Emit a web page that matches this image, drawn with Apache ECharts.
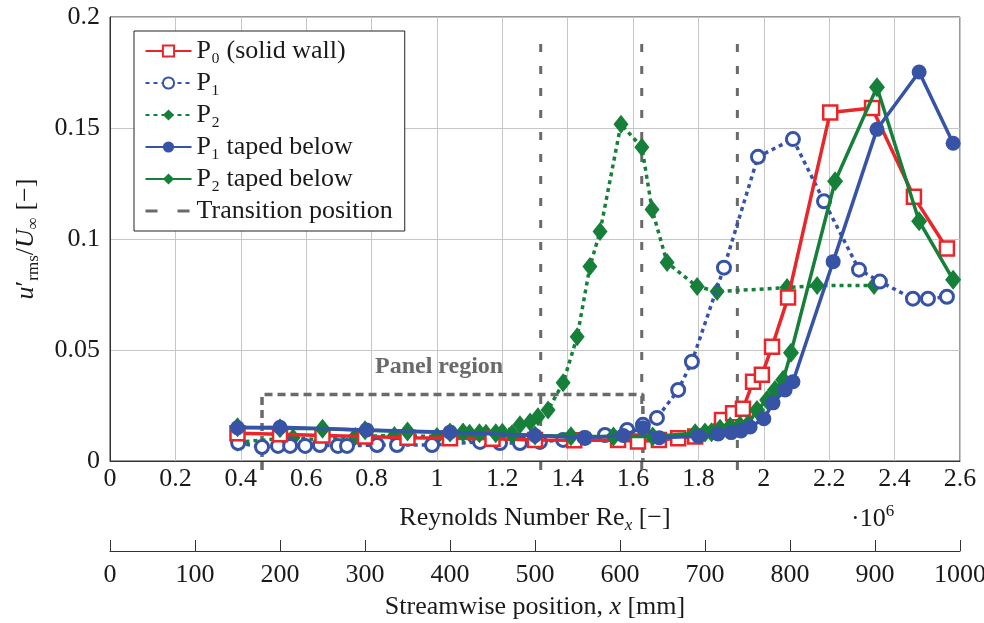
<!DOCTYPE html>
<html>
<head>
<meta charset="utf-8">
<script src="https://cdn.jsdelivr.net/npm/echarts@6/dist/echarts.min.js"></script>
<style>
html,body{margin:0;padding:0;background:#fff;}
#chart{width:984px;height:623px;}
</style>
</head>
<body>
<div id="chart"></div>
<script>
// ---------- data (Re_x in 1e6, value u'rms/U_inf) ----------
const reP0  = [0.39,0.52,0.65,0.78,0.91,1.04,1.17,1.30,1.42,1.554,1.615,1.679,1.738,1.79,1.872,1.906,1.936,1.967,1.994,2.025,2.074,2.203,2.331,2.459,2.560];
const valP0 = [0.0125,0.012,0.0115,0.011,0.0105,0.0102,0.0100,0.0095,0.0093,0.0095,0.0088,0.0095,0.0102,0.011,0.0185,0.0215,0.0235,0.0357,0.0388,0.0515,0.0736,0.157,0.159,0.119,0.0957];

const reP1  = [0.392,0.465,0.514,0.551,0.597,0.642,0.697,0.725,0.817,0.878,0.985,1.132,1.193,1.254,1.315,1.386,1.453,1.514,1.582,1.630,1.673,1.738,1.780,1.878,1.982,2.089,2.184,2.291,2.355,2.456,2.502,2.560];
const valP1 = [0.0081,0.0063,0.0068,0.0068,0.0068,0.0072,0.0068,0.0068,0.0072,0.0072,0.0072,0.0086,0.0081,0.0081,0.0086,0.0095,0.0104,0.0117,0.014,0.0163,0.0194,0.032,0.0447,0.0871,0.137,0.145,0.117,0.0862,0.0808,0.0731,0.0731,0.074];

const reP2  = [0.39,0.56,0.65,0.75,0.87,1.00,1.05,1.10,1.15,1.20,1.254,1.285,1.309,1.340,1.386,1.429,1.468,1.499,1.563,1.627,1.658,1.704,1.796,1.857,2.071,2.163,2.337];
const valP2 = [0.0085,0.0105,0.0095,0.011,0.0115,0.011,0.012,0.0125,0.0125,0.013,0.0163,0.0176,0.0199,0.023,0.0352,0.056,0.0876,0.1034,0.1517,0.1413,0.1133,0.0894,0.0786,0.0763,0.0781,0.079,0.079];

const reP1t  = [0.39,0.52,0.785,1.04,1.30,1.45,1.57,1.63,1.68,1.80,1.86,1.90,1.93,1.958,2.00,2.028,2.065,2.089,2.212,2.346,2.475,2.579];
const valP1t = [0.015,0.0152,0.014,0.013,0.0115,0.0105,0.0115,0.0150,0.0105,0.0112,0.0122,0.0128,0.0135,0.0153,0.019,0.0262,0.032,0.0357,0.0898,0.1494,0.1752,0.1431];

const reP2t  = [0.39,0.52,0.65,0.78,0.91,1.04,1.08,1.13,1.18,1.23,1.30,1.41,1.54,1.66,1.79,1.82,1.84,1.866,1.897,1.927,1.952,1.979,2.010,2.034,2.059,2.083,2.218,2.346,2.475,2.579];
const valP2t = [0.0152,0.0148,0.0145,0.0138,0.0133,0.0128,0.0128,0.0125,0.0125,0.012,0.0115,0.0112,0.011,0.011,0.0125,0.0128,0.013,0.0145,0.0155,0.016,0.0165,0.023,0.0275,0.032,0.0366,0.0488,0.126,0.1684,0.108,0.0817];

const transitionRe = [1.3175,1.6265,1.919];
const transitionSpan = [-0.004,0.1935];
const panelRe  = [0.465,0.465,1.63,1.63];
const panelVal = [-0.004,0.03,0.03,0.0];

const reTicks = [0,0.2,0.4,0.6,0.8,1,1.2,1.4,1.6,1.8,2,2.2,2.4,2.6];
const yTicks  = [0,0.05,0.1,0.15,0.2];
const xTicksMm = [0,100,200,300,400,500,600,700,800,900,1000];

const names = ['P\u2080 (solid wall)','P\u2081','P\u2082','P\u2081 taped below','P\u2082 taped below','Transition position'];

// ---------- helpers ----------
const zip = (a,b)=>a.map((v,i)=>[v,b[i]]);
const transData = [];
transitionRe.forEach(r=>{ transData.push([r,transitionSpan[0]]); transData.push([r,transitionSpan[1]]); transData.push([r,'-']); });

const RED='#e8262b', BLUE='#3653a6', GREEN='#16803a', GREY='#6a6a6a';
const FONT='Liberation Serif, DejaVu Serif, serif';
const FS=26;

const chart = echarts.init(document.getElementById('chart'));
chart.setOption({
  animation:false,
  backgroundColor:'#fff',
  textStyle:{fontFamily:FONT,color:'#1a1a1a'},
  grid:[
    {left:110,top:17,width:850,height:444,show:true,borderColor:'#333',borderWidth:1,backgroundColor:'transparent',outerBoundsMode:'none',containLabel:false},
    {left:110,top:550,width:850,height:1,show:false,outerBoundsMode:'none',containLabel:false}
  ],
  xAxis:[
    {type:'value',gridIndex:0,min:0,max:2.6,interval:0.2,
     axisLine:{show:true,lineStyle:{color:'#333',width:1}},
     axisTick:{show:false},
     splitLine:{show:true,lineStyle:{color:'#c6c6c6',width:1}},
     axisLabel:{fontFamily:FONT,fontSize:FS,color:'#1a1a1a',margin:5,
       formatter:v=>String(parseFloat(v.toFixed(1)))},
     name:'{n|Reynolds Number Re}{s|x}{n| [\u2212]}',
     nameLocation:'middle',nameGap:41,
     nameTextStyle:{rich:{
       n:{fontFamily:FONT,fontSize:FS,color:'#1a1a1a',lineHeight:32},
       s:{fontFamily:FONT,fontSize:17,fontStyle:'italic',color:'#1a1a1a',lineHeight:17,verticalAlign:'bottom'}
     }}
    },
    {type:'value',gridIndex:1,min:0,max:1000,interval:100,position:'bottom',
     axisLine:{show:true,onZero:false,lineStyle:{color:'#333',width:1}},
     axisTick:{show:true,inside:true,length:11,lineStyle:{color:'#333'}},
     splitLine:{show:false},
     axisLabel:{fontFamily:FONT,fontSize:FS,color:'#1a1a1a',margin:11,formatter:v=>String(v)},
     name:'{n|Streamwise position, }{i|x}{n| [mm]}',
     nameLocation:'middle',nameGap:43,
     nameTextStyle:{rich:{
       n:{fontFamily:FONT,fontSize:FS,color:'#1a1a1a'},
       i:{fontFamily:FONT,fontSize:FS,fontStyle:'italic',color:'#1a1a1a'}
     }}
    }
  ],
  yAxis:[
    {type:'value',gridIndex:0,min:0,max:0.2,interval:0.05,
     axisLine:{show:true,lineStyle:{color:'#333',width:1}},
     axisTick:{show:false},
     splitLine:{show:true,lineStyle:{color:'#c6c6c6',width:1}},
     axisLabel:{fontFamily:FONT,fontSize:FS,color:'#1a1a1a',margin:10,
       formatter:v=>String(parseFloat(v.toFixed(2)))},
     name:'{i|u}{n|\u2032}{s|rms}{n|/}{i|U}{s|\u221E}{n| [\u2212]}',
     nameLocation:'middle',nameGap:68,nameRotate:90,
     nameTextStyle:{rich:{
       n:{fontFamily:FONT,fontSize:FS,color:'#1a1a1a',lineHeight:32},
       i:{fontFamily:FONT,fontSize:FS,fontStyle:'italic',color:'#1a1a1a',lineHeight:32},
       s:{fontFamily:FONT,fontSize:17,color:'#1a1a1a',lineHeight:17,verticalAlign:'bottom'}
     }}
    },
    {type:'value',gridIndex:1,show:false,min:0,max:1}
  ],
  legend:{
    orient:'vertical',left:134,top:31,
    data:[names[0],names[1],names[2],names[3],names[4],
      {name:names[5],itemStyle:{opacity:0},lineStyle:{type:[12,20],width:3,color:GREY}}],
    backgroundColor:'#fff',borderColor:'#222',borderWidth:1,
    padding:[6,12,6,10],
    itemWidth:46,itemHeight:14,itemGap:4,
    textStyle:{fontFamily:FONT,fontSize:FS,color:'#1a1a1a',lineHeight:28}
  },
  graphic:[
    {type:'text',left:851,top:503,
     style:{rich:{
       n:{fontFamily:FONT,fontSize:FS,fill:'#1a1a1a',lineHeight:32},
       p:{fontFamily:FONT,fontSize:17,fill:'#1a1a1a',lineHeight:17,verticalAlign:'top'}
     },text:'{n|\u00B710}{p|6}'}},
    {type:'text',left:375,top:355,z:5,
     style:{text:'Panel region',fontFamily:FONT,fontSize:24,fontWeight:'bold',fill:GREY}}
  ],
  series:[
    {name:names[5],type:'line',xAxisIndex:0,yAxisIndex:0,data:transData,symbol:'none',
     clip:false,connectNulls:false,z:1,
     lineStyle:{color:GREY,width:3,type:[8,14]},itemStyle:{color:GREY}},
    {name:'Panel region',type:'line',xAxisIndex:0,yAxisIndex:0,data:zip(panelRe,panelVal),symbol:'none',
     clip:false,z:1,lineStyle:{color:GREY,width:3.5,type:[8,5]}},
    {name:names[2],type:'line',data:zip(reP2,valP2),symbol:'diamond',symbolSize:[15,19],z:3,
     lineStyle:{color:GREEN,width:3.5,type:[4,4]},itemStyle:{color:GREEN}},
    {name:names[1],type:'line',data:zip(reP1,valP1),symbol:'circle',symbolSize:13,z:4,
     lineStyle:{color:BLUE,width:3.5,type:[4,4]},itemStyle:{color:'#fff',borderColor:BLUE,borderWidth:3}},
    {name:names[0],type:'line',data:zip(reP0,valP0),symbol:'rect',symbolSize:14,z:5,
     lineStyle:{color:RED,width:3.5},itemStyle:{color:'#fff',borderColor:RED,borderWidth:2.5}},
    {name:names[4],type:'line',data:zip(reP2t,valP2t),symbol:'diamond',symbolSize:[16,20],z:6,
     lineStyle:{color:GREEN,width:3.5},itemStyle:{color:GREEN}},
    {name:names[3],type:'line',data:zip(reP1t,valP1t),symbol:'circle',symbolSize:15,z:7,
     lineStyle:{color:BLUE,width:3.5},itemStyle:{color:BLUE}}
  ]
});
</script>
</body>
</html>
